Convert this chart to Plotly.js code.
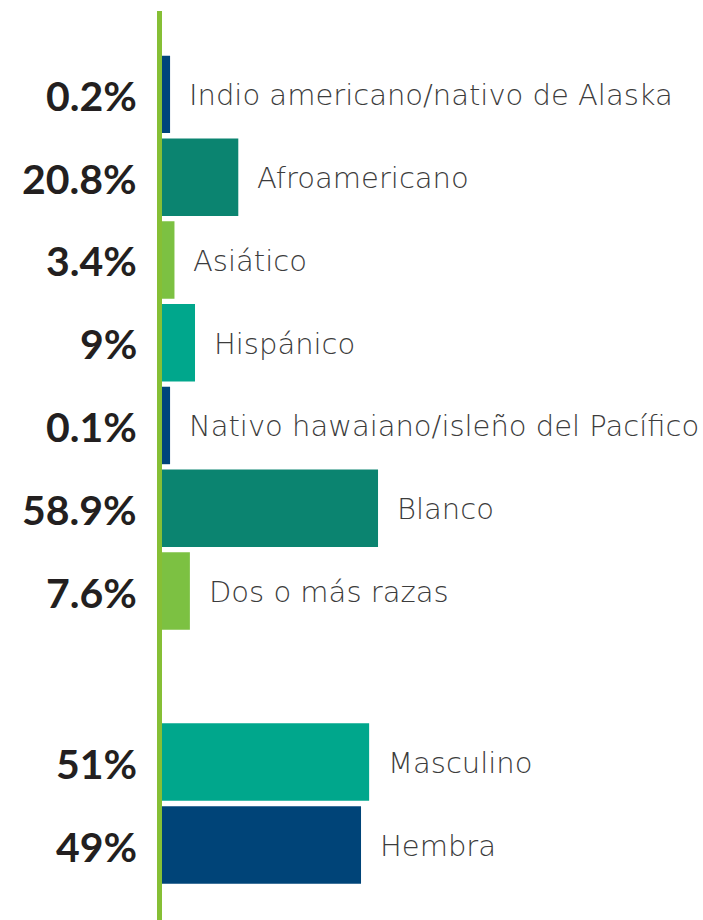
<!DOCTYPE html>
<html>
<head>
<meta charset="utf-8">
<script src="https://cdn.plot.ly/plotly-3.0.1.min.js"></script>
<style>
html,body{margin:0;padding:0;background:#fff;}
#chart{width:703px;height:920px;}
</style>
</head>
<body>
<div id="chart"></div>
<script>
// ---- data ----
const raceCategories = ["Indio americano/nativo de Alaska", "Afroamericano", "Asiático", "Hispánico",
  "Nativo hawaiano/isleño del Pacífico", "Blanco", "Dos o más razas"];
const raceValues = [0.2, 20.8, 3.4, 9, 0.1, 58.9, 7.6];
const raceColors = ["#00457b", "#0b8470", "#7cc142", "#00a78c", "#00457b", "#0b8470", "#7cc142"];

const genderCategories = ["Masculino", "Hembra"];
const genderValues = [51, 49];
const genderColors = ["#00a78c", "#004478"];

// tiny shares are drawn with a minimum visible length, as in the original design
const minVisible = 2.2;
const raceLen = raceValues.map(v => Math.max(v, minVisible));
const genderLen = genderValues.map(v => Math.max(v, minVisible));

const pctFont = {family: "Lato", size: 41, color: "#231f20", weight: 900};
const labFont = {family: "DejaVu Sans", size: 29, color: "#3c3c3c", weight: 200};

const traces = [
  {type: "bar", orientation: "h", y: raceCategories, x: raceLen,
   marker: {color: raceColors, line: {width: 0}}, xaxis: "x", yaxis: "y",
   customdata: raceValues, hovertemplate: "%{y}: %{customdata}%<extra></extra>"},
  {type: "bar", orientation: "h", y: genderCategories, x: genderLen,
   marker: {color: genderColors, line: {width: 0}}, xaxis: "x2", yaxis: "y2",
   customdata: genderValues, hovertemplate: "%{y}: %{customdata}%<extra></extra>"}
];

const annotations = [];
function addLabels(cats, vals, lens, xr, yr) {
  cats.forEach((c, i) => {
    annotations.push({xref: "paper", yref: yr, x: 0, y: c, text: "<b>" + vals[i] + "%</b>",
      xanchor: "right", yanchor: "middle", xshift: -23, yshift: -1, showarrow: false, font: pctFont});
    annotations.push({xref: xr, yref: yr, x: lens[i], y: c, text: c,
      xanchor: "left", yanchor: "middle", xshift: 17, yshift: -1, showarrow: false, font: labFont});
  });
}
addLabels(raceCategories, raceValues, raceLen, "x", "y");
addLabels(genderCategories, genderValues, genderLen, "x2", "y2");

const axisOff = {showgrid: false, zeroline: false, showticklabels: false, showline: false, ticks: "", fixedrange: true};

const layout = {
  width: 703, height: 920,
  margin: {l: 162, r: 0, t: 0, b: 0},
  paper_bgcolor: "#ffffff", plot_bgcolor: "rgba(0,0,0,0)",
  showlegend: false,
  bargap: 0.064,
  xaxis: Object.assign({}, axisOff, {range: [0, 147.5], anchor: "y", domain: [0, 1]}),
  yaxis: Object.assign({}, axisOff, {type: "category", autorange: "reversed", domain: [0.3126, 0.9424], anchor: "x"}),
  xaxis2: Object.assign({}, axisOff, {range: [0, 133.2], anchor: "y2", domain: [0, 1]}),
  yaxis2: Object.assign({}, axisOff, {type: "category", autorange: "reversed", domain: [0.0364, 0.2168], anchor: "x2"}),
  shapes: [{type: "rect", xref: "paper", yref: "paper", xsizemode: "pixel", xanchor: 0,
    x0: -5, x1: 0, y0: 0, y1: 0.988, fillcolor: "#86bf35", line: {width: 0}, layer: "above"}],
  annotations: annotations
};

Plotly.newPlot("chart", traces, layout, {displayModeBar: false, staticPlot: true});
</script>
</body>
</html>
